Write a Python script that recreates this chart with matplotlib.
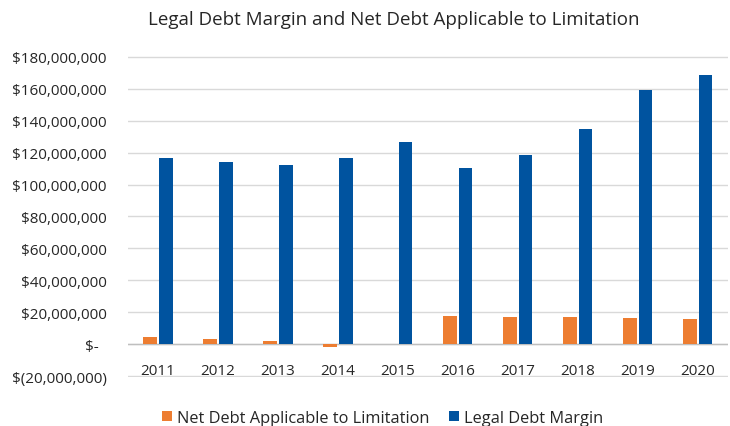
import matplotlib
matplotlib.use("Agg")
import matplotlib.pyplot as plt
import numpy as np
from matplotlib.ticker import FuncFormatter

years = ["2011", "2012", "2013", "2014", "2015", "2016", "2017", "2018", "2019", "2020"]
net_debt = [4.6e6, 3.4e6, 2.1e6, -1.7e6, 0.0, 17.9e6, 17.1e6, 17.1e6, 16.2e6, 15.6e6]
legal_margin = [116.7e6, 114.2e6, 112.1e6, 116.7e6, 126.9e6, 110.4e6, 118.6e6, 134.6e6, 158.9e6, 168.8e6]

plt.rcParams['font.family'] = ['Open Sans', 'DejaVu Sans']

fig = plt.figure(figsize=(7.3, 4.27), dpi=100)
ax = fig.add_axes([0.175, 0.1148, 0.8216, 0.7518])

x = np.arange(len(years))
w = 0.225
ax.bar(x - 0.125, net_debt, width=w, color='#ED7D31', label='Net Debt Applicable to Limitation', zorder=3)
ax.bar(x + 0.135, legal_margin, width=w, color='#00539F', label='Legal Debt Margin', zorder=3)

ax.set_xlim(-0.5, len(years) - 0.5)
ax.set_ylim(-20.5e6, 180.5e6)
ax.set_yticks(np.arange(-20e6, 180e6 + 1, 20e6))

def fmt(v, pos):
    if abs(v) < 1:
        return '$-  '
    if v < 0:
        return '$(' + format(int(round(-v)), ',') + ')'
    return '$' + format(int(round(v)), ',')
ax.yaxis.set_major_formatter(FuncFormatter(fmt))

ax.grid(axis='y', color='#D9D9D9', linewidth=1, zorder=0)
ax.axhline(0, color='#BFBFBF', linewidth=1, zorder=2)
for s in ax.spines.values():
    s.set_visible(False)

ax.set_xticks(x)
ax.set_xticklabels(years)
ax.tick_params(axis='x', length=0, pad=-10, labelsize=11, colors='#262626')
ax.tick_params(axis='y', length=0, pad=15, labelsize=11, colors='#262626')

fig.suptitle('Legal Debt Margin and Net Debt Applicable to Limitation', x=0.54, y=0.975,
             fontsize=13.5, color='#262626')

fig.legend(loc='lower center', bbox_to_anchor=(0.524, -0.034), ncol=2, frameon=False,
           fontsize=11.8, handlelength=0.6, handleheight=0.6, columnspacing=1.2,
           handletextpad=0.3, labelcolor='#262626')

fig.savefig('out.png', dpi=100)
